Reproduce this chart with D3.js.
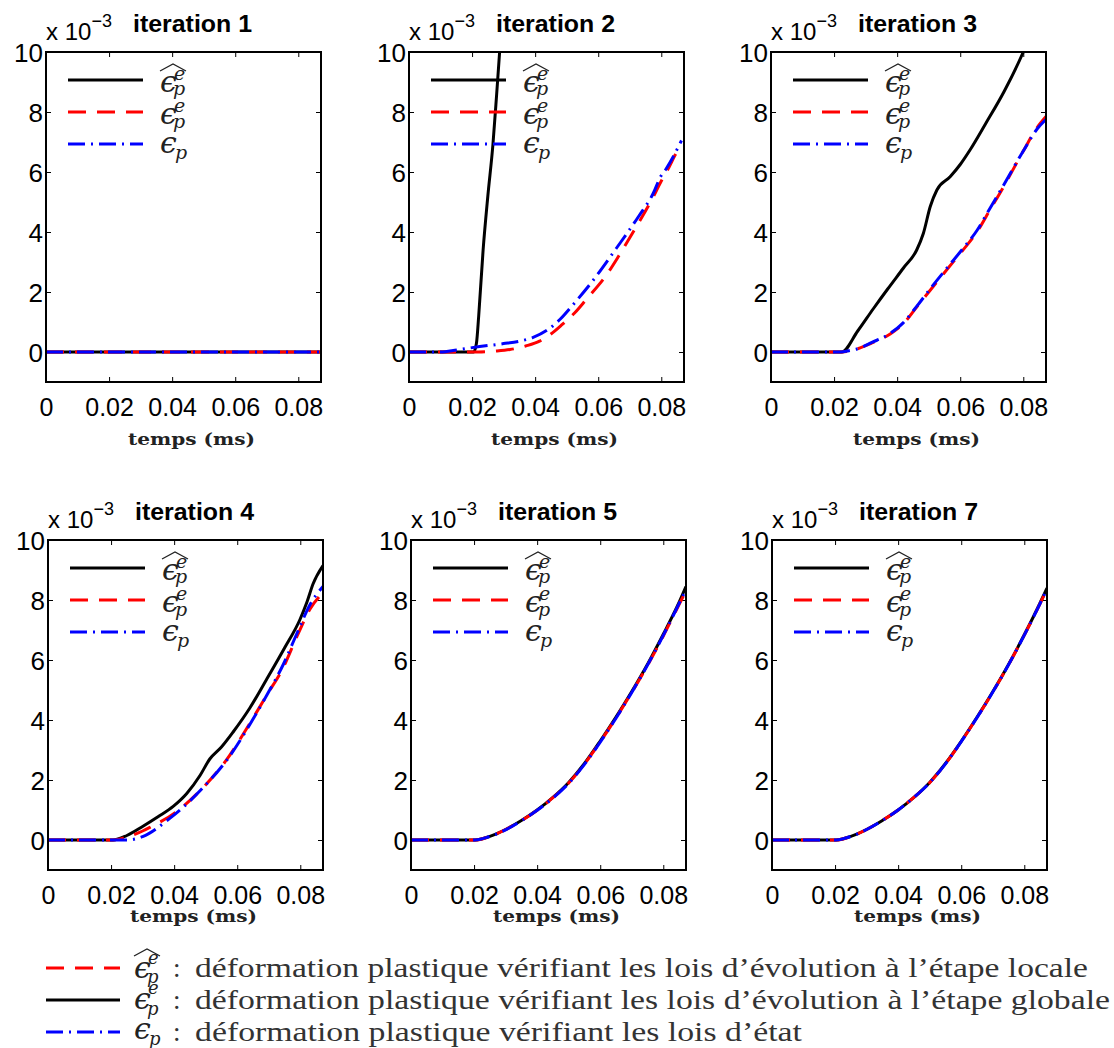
<!DOCTYPE html>
<html>
<head>
<meta charset="utf-8">
<script src="https://cdn.jsdelivr.net/npm/d3@7"></script>
<style>
  html, body { margin: 0; padding: 0; background: #fff; }
  svg { display: block; }
</style>
</head>
<body>
<svg id="chart" width="1114" height="1048"></svg>
<script>
// ---------------- DATA ----------------
// time in ms, strain in units of 1e-3
const timeTicks = [0, 0.02, 0.04, 0.06, 0.08];
const strainTicks = [0, 2, 4, 6, 8, 10];
const timeDomain = [0, 0.0872];
const strainDomain = [-1, 10];
const panelTitles = ["iteration 1", "iteration 2", "iteration 3", "iteration 4", "iteration 5", "iteration 7"];

// iteration 1
const it1_hat   = [[0,0],[0.0872,0]];
const it1_local = [[0,0],[0.0872,0]];
const it1_state = [[0,0],[0.0872,0]];

// iteration 2
const it2_hat   = [[0,0],[0.0205,0],[0.0214,0.3],[0.0221,1.2],[0.0235,3.4],[0.0250,5.2],[0.0266,6.9],[0.0278,8.6],[0.0290,10.4]];
const it2_local = [[0,0],[0.022,0],[0.0275,0.03],[0.032,0.08],[0.037,0.2],[0.0414,0.36],[0.045,0.6],[0.0486,0.92],[0.0525,1.3],[0.0562,1.75],[0.0625,2.55],[0.0665,3.2],[0.0708,3.95],[0.0771,5.1],[0.0800,5.7],[0.0824,6.15],[0.0846,6.6],[0.0864,6.88]];
const it2_state = [[0,0],[0.010,0],[0.0152,0.07],[0.0224,0.18],[0.030,0.28],[0.035,0.36],[0.0392,0.48],[0.0445,0.78],[0.048,1.1],[0.0518,1.55],[0.0581,2.35],[0.0657,3.45],[0.073,4.55],[0.0775,5.3],[0.0798,5.85],[0.0815,6.1],[0.0840,6.55],[0.0864,7.05]];

// iteration 3
const it3_hat   = [[0,0],[0.0224,0],[0.0275,0.7],[0.0325,1.45],[0.037,2.1],[0.042,2.8],[0.0462,3.4],[0.0483,3.95],[0.0505,4.85],[0.0526,5.4],[0.0568,5.84],[0.060,6.25],[0.0632,6.75],[0.068,7.6],[0.074,8.7],[0.0800,10.0],[0.082,10.5]];
const it3_local = [[0,0],[0.021,0],[0.024,0.02],[0.0272,0.1],[0.032,0.3],[0.0378,0.6],[0.042,0.95],[0.0462,1.5],[0.0508,2.1],[0.0558,2.75],[0.0605,3.35],[0.0653,4.0],[0.0695,4.75],[0.0737,5.5],[0.080,6.7],[0.0845,7.5],[0.0872,7.85]];
const it3_state = [[0,0],[0.022,0],[0.025,0.05],[0.0272,0.1],[0.032,0.32],[0.0378,0.62],[0.042,0.98],[0.0462,1.52],[0.0508,2.15],[0.0558,2.8],[0.0605,3.4],[0.0653,4.05],[0.0695,4.8],[0.0737,5.55],[0.080,6.7],[0.0845,7.45],[0.0872,7.75]];

// iteration 4
const it4_hat   = [[0,0],[0.0206,0],[0.025,0.15],[0.030,0.45],[0.035,0.78],[0.0397,1.12],[0.044,1.55],[0.0482,2.15],[0.0513,2.7],[0.055,3.1],[0.0587,3.6],[0.064,4.4],[0.0693,5.35],[0.075,6.4],[0.0799,7.35],[0.082,7.9],[0.0841,8.55],[0.0872,9.15]];
const it4_local = [[0,0],[0.0206,0],[0.025,0.1],[0.030,0.3],[0.0323,0.42],[0.0408,0.95],[0.0492,1.75],[0.0566,2.67],[0.064,3.89],[0.0695,4.85],[0.0746,5.75],[0.0790,6.8],[0.0831,7.7],[0.0872,8.25]];
const it4_state = [[0,0],[0.025,0],[0.030,0.11],[0.0386,0.72],[0.045,1.3],[0.0492,1.75],[0.0566,2.65],[0.064,3.85],[0.0695,4.85],[0.0746,5.85],[0.0790,6.9],[0.0831,7.85],[0.0872,8.45]];

// iteration 5
const it5_hat   = [[0,0],[0.0203,0],[0.025,0.12],[0.030,0.35],[0.035,0.65],[0.040,1.0],[0.045,1.42],[0.050,1.92],[0.055,2.55],[0.060,3.3],[0.065,4.1],[0.070,4.95],[0.075,5.86],[0.080,6.86],[0.085,7.92],[0.0872,8.45]];
const it5_local = [[0,0],[0.0203,0],[0.025,0.12],[0.030,0.35],[0.035,0.64],[0.040,0.99],[0.045,1.41],[0.050,1.9],[0.055,2.53],[0.060,3.27],[0.065,4.07],[0.070,4.92],[0.075,5.82],[0.080,6.8],[0.085,7.85],[0.0872,8.3]];
const it5_state = [[0,0],[0.0203,0],[0.025,0.12],[0.030,0.34],[0.035,0.64],[0.040,0.99],[0.045,1.4],[0.050,1.89],[0.055,2.52],[0.060,3.26],[0.065,4.06],[0.070,4.92],[0.075,5.83],[0.080,6.82],[0.085,7.88],[0.0872,8.35]];

// iteration 7
const it7_hat   = [[0,0],[0.0203,0],[0.025,0.12],[0.030,0.35],[0.035,0.65],[0.040,1.0],[0.045,1.42],[0.050,1.92],[0.055,2.55],[0.060,3.29],[0.065,4.09],[0.070,4.94],[0.075,5.85],[0.080,6.84],[0.085,7.9],[0.0872,8.4]];
const it7_local = [[0,0],[0.0203,0],[0.025,0.12],[0.030,0.35],[0.035,0.65],[0.040,1.0],[0.045,1.42],[0.050,1.91],[0.055,2.54],[0.060,3.28],[0.065,4.08],[0.070,4.93],[0.075,5.84],[0.080,6.83],[0.085,7.88],[0.0872,8.37]];
const it7_state = [[0,0],[0.0203,0],[0.025,0.12],[0.030,0.35],[0.035,0.65],[0.040,1.0],[0.045,1.42],[0.050,1.91],[0.055,2.54],[0.060,3.28],[0.065,4.08],[0.070,4.93],[0.075,5.84],[0.080,6.83],[0.085,7.88],[0.0872,8.37]];

const legendTexts = [
  "déformation plastique vérifiant les lois d’évolution à l’étape locale",
  "déformation plastique vérifiant les lois d’évolution à l’étape globale",
  "déformation plastique vérifiant les lois d’état"
];

// ---------------- STYLE / LAYOUT ----------------
const styles = {
  hat:   { color: "#000000", dash: null },
  local: { color: "#ff0000", dash: "18,11" },
  state: { color: "#0000ff", dash: "17,6,2,6" }
};
const LW = 3;
const PW = 275, PH = 330;
const panelPos = [
  {L: 46, T: 52}, {L: 409, T: 52}, {L: 771, T: 52},
  {L: 48, T: 540}, {L: 411, T: 540}, {L: 772, T: 540}
];
const xlabelOffset = [63, 63, 63, 52, 52, 52];

const panelData = [
  [it1_hat, it1_local, it1_state],
  [it2_hat, it2_local, it2_state],
  [it3_hat, it3_local, it3_state],
  [it4_hat, it4_local, it4_state],
  [it5_hat, it5_local, it5_state],
  [it7_hat, it7_local, it7_state]
];
const seriesKeys = ["hat", "local", "state"];

const svg = d3.select("#chart");
const sansFont = "'Liberation Sans', Arial, Helvetica, sans-serif";
const serifFont = "'DejaVu Serif', 'Liberation Serif', serif";
const romanFont = "'Liberation Serif', 'DejaVu Serif', serif";

// epsilon with optional hat / sup e / sub p, as a single text element
function drawEps(g, x, y, opt) {
  const s = opt.size || 30;
  const sm = opt.small || 19;
  const t = g.append("text").attr("x", x).attr("y", y)
    .attr("font-family", serifFont).attr("font-style", "italic")
    .attr("font-size", s).attr("fill", "#222");
  t.append("tspan").text("ϵ");
  if (opt.sup) {
    t.append("tspan").attr("x", x + opt.supDx).attr("y", y + opt.supDy)
      .attr("font-size", sm).text("e");
  }
  t.append("tspan").attr("x", x + opt.subDx).attr("y", y + opt.subDy)
    .attr("font-size", sm).text("p");
  if (opt.hat) {
    g.append("path")
      .attr("d", `M${x},${y + opt.hatDy} L${x + 13},${y + opt.hatDy - 7} L${x + 26},${y + opt.hatDy}`)
      .attr("fill", "none").attr("stroke", "#222").attr("stroke-width", 1.3);
  }
}

panelData.forEach((series, i) => {
  const {L, T} = panelPos[i];
  const x = d3.scaleLinear().domain(timeDomain).range([L, L + PW]);
  const y = d3.scaleLinear().domain(strainDomain).range([T + PH, T]);
  const g = svg.append("g");

  const clipId = "clip" + i;
  svg.append("clipPath").attr("id", clipId).append("rect")
    .attr("x", L).attr("y", T).attr("width", PW).attr("height", PH);

  // axes with inward ticks on all four sides
  const tickLen = 5;
  const axB = d3.axisBottom(x).tickValues(timeTicks).tickSizeInner(-tickLen).tickSizeOuter(0)
    .tickFormat(d => d === 0 ? "0" : d3.format(".2f")(d));
  const axT = d3.axisTop(x).tickValues(timeTicks).tickSizeInner(-tickLen).tickSizeOuter(0).tickFormat("");
  const axL = d3.axisLeft(y).tickValues(strainTicks).tickSizeInner(-tickLen).tickSizeOuter(0).tickFormat(d3.format("d"));
  const axR = d3.axisRight(y).tickValues(strainTicks).tickSizeInner(-tickLen).tickSizeOuter(0).tickFormat("");

  const gB = g.append("g").attr("transform", `translate(0,${T + PH})`).call(axB);
  const gT = g.append("g").attr("transform", `translate(0,${T})`).call(axT);
  const gL = g.append("g").attr("transform", `translate(${L},0)`).call(axL);
  const gR = g.append("g").attr("transform", `translate(${L + PW},0)`).call(axR);
  [gB, gT, gL, gR].forEach(a => {
    a.select(".domain").remove();
    a.selectAll(".tick line").attr("stroke", "#000").attr("stroke-width", 1);
  });
  gB.selectAll(".tick text").attr("font-family", sansFont).attr("font-size", 25)
    .attr("fill", "#000").attr("dy", null).attr("y", 34);
  gL.selectAll(".tick text").attr("font-family", sansFont).attr("font-size", 26)
    .attr("fill", "#000").attr("x", -3).attr("dy", "0.36em");

  // curves
  const line = d3.line().x(d => x(d[0])).y(d => y(d[1])).curve(d3.curveMonotoneX);
  const cg = g.append("g").attr("clip-path", `url(#${clipId})`);
  series.forEach((s, k) => {
    const st = styles[seriesKeys[k]];
    cg.append("path").datum(s).attr("d", line)
      .attr("fill", "none").attr("stroke", st.color).attr("stroke-width", LW)
      .attr("stroke-dasharray", st.dash).attr("stroke-linejoin", "round");
  });

  // box
  g.append("rect").attr("x", L).attr("y", T).attr("width", PW).attr("height", PH)
    .attr("fill", "none").attr("stroke", "#000").attr("stroke-width", 2);

  // in-panel legend
  const ly = [T + 28, T + 60, T + 92];
  seriesKeys.forEach((key, k) => {
    const st = styles[key];
    g.append("line").attr("x1", L + 22).attr("x2", L + 97).attr("y1", ly[k]).attr("y2", ly[k])
      .attr("stroke", st.color).attr("stroke-width", LW).attr("stroke-dasharray", st.dash);
  });
  const ex = L + 114;
  drawEps(g, ex, ly[0] + 12, {hat: true, sup: true, supDx: 14, supDy: -12, subDx: 13, subDy: 3, hatDy: -21});
  drawEps(g, ex, ly[1] + 12, {hat: false, sup: true, supDx: 14, supDy: -12, subDx: 13, subDy: 4});
  drawEps(g, ex, ly[2] + 9, {hat: false, sup: false, subDx: 15, subDy: 6});

  // title
  g.append("text").attr("x", L + PW / 2 + 9).attr("y", T - 20)
    .attr("text-anchor", "middle").attr("font-family", sansFont)
    .attr("font-weight", "bold").attr("font-size", 24).attr("fill", "#000")
    .attr("textLength", 119).attr("lengthAdjust", "spacingAndGlyphs")
    .text(panelTitles[i]);
  // exponent label
  const ex3 = g.append("text").attr("x", L).attr("y", T - 12)
    .attr("font-family", sansFont).attr("font-size", 24).attr("fill", "#000");
  ex3.append("tspan").text("x 10");
  ex3.append("tspan").attr("font-size", 18).attr("dy", -13).text("−3");
  // x label
  g.append("text").attr("x", L + PW / 2 + 8).attr("y", T + PH + xlabelOffset[i])
    .attr("text-anchor", "middle").attr("font-family", serifFont)
    .attr("font-weight", "bold").attr("font-size", 16).attr("fill", "#222")
    .attr("textLength", 127).attr("lengthAdjust", "spacingAndGlyphs")
    .text("temps (ms)");
});

// ---------------- bottom legend ----------------
const bl = svg.append("g");
const blY = [968, 1000, 1032];
const blOrder = ["local", "hat", "state"];
const blWidths = [893, 915, 607];
blOrder.forEach((key, k) => {
  const st = styles[key];
  bl.append("line").attr("x1", 46).attr("x2", 120).attr("y1", blY[k]).attr("y2", blY[k])
    .attr("stroke", st.color).attr("stroke-width", LW).attr("stroke-dasharray", st.dash);
  bl.append("text").attr("x", 173).attr("y", blY[k] + 9)
    .attr("font-family", romanFont).attr("font-size", 27).attr("fill", "#333").text(":");
  bl.append("text").attr("x", 195).attr("y", blY[k] + 9)
    .attr("font-family", romanFont).attr("font-size", 27).attr("fill", "#333")
    .attr("textLength", blWidths[k]).attr("lengthAdjust", "spacingAndGlyphs")
    .text(legendTexts[k]);
});
drawEps(bl, 134, blY[0] + 10, {hat: true, sup: true, supDx: 14, supDy: -14, subDx: 13, subDy: 5, hatDy: -22, small: 18});
drawEps(bl, 134, blY[1] + 9, {hat: false, sup: true, supDx: 14, supDy: -15, subDx: 13, subDy: 6, small: 18});
drawEps(bl, 134, blY[2] + 7, {hat: false, sup: false, subDx: 15, subDy: 6, small: 18});
</script>
</body>
</html>
